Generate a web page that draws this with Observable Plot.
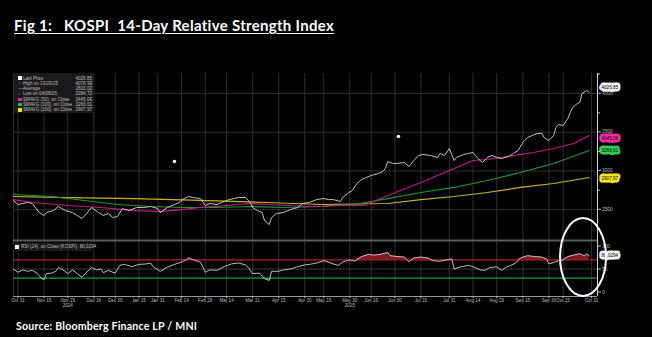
<!DOCTYPE html>
<html>
<head>
<meta charset="utf-8">
<script src="https://cdn.jsdelivr.net/npm/d3@7"></script>
<script src="https://cdn.jsdelivr.net/npm/@observablehq/plot@0.6"></script>
<style>
  html, body { margin: 0; padding: 0; background: #000; }
  #wrap { position: relative; width: 652px; height: 337px; overflow: hidden; background: #000; font-family: "Liberation Sans", Arial, sans-serif; }
  #title { position: absolute; left: 14px; top: 17.5px; color: #fff; font-family: Lato, "Open Sans", sans-serif; font-weight: 700; font-size: 15px; line-height: 15px; letter-spacing: 0.3px; text-decoration: underline; text-decoration-thickness: 1.4px; text-underline-offset: 2px; white-space: pre; }
  #source { position: absolute; left: 16px; top: 320.5px; color: #fff; font-family: Lato, "Open Sans", sans-serif; font-weight: 700; font-size: 10.6px; line-height: 10.6px; letter-spacing: 0.2px; white-space: pre; }
  #price { position: absolute; left: 0; top: 60px; }
  #rsi { position: absolute; left: 0; top: 240px; }
  .legend { position: absolute; background: rgba(28,28,28,0.92); color: #bdbdbd; font-size: 4.6px; }
  .legend .row { position: relative; height: 5.3px; line-height: 5.3px; white-space: pre; }
  .legend .sym { position: absolute; left: 4px; top: 0.9px; width: 3.6px; height: 3.6px; }
  .legend .glyph { position: absolute; left: 4.3px; top: 0; color: #bdbdbd; }
  .legend .lab { position: absolute; left: 9px; top: 0; }
  .legend .val { position: absolute; right: 2px; top: 0; }
</style>
</head>
<body>
<div id="wrap">
  <div id="title"></div>
  <div id="price"></div>
  <div id="legend" class="legend" style="left:14px; top:73px; width:80px; height:40px; padding-top:2.5px; box-sizing:border-box;"></div>
  <div id="rsi"></div>
  <div id="rsiLegend" class="legend" style="left:13px; top:243px; width:79px; height:8px; box-sizing:border-box; padding-top:1.3px;"></div>
  <div id="source"></div>
</div>
<script>
// ---------- text ----------
const titleText = "Fig 1:   KOSPI  14-Day Relative Strength Index";
const sourceText = "Source: Bloomberg Finance LP / MNI";

// ---------- x axis (trading-session index, 0 = Oct 31 2024) ----------
const tickSessions = [0, 11, 21, 32, 41, 51, 59, 69, 79, 88, 99, 110, 121, 129, 140, 149, 159, 170, 182, 192, 202, 213, 224, 230, 242];
const tickLabels = ["Oct 31", "Nov 15", "Nov 29", "Dec 16", "Dec 30", "Jan 15", "Jan 31", "Feb 14", "Feb 28", "Mar 14", "Mar 31", "Apr 15", "Apr 30", "May 15", "May 30", "Jun 16", "Jun 30", "Jul 15", "Jul 31", "Aug 14", "Aug 29", "Sep 15", "Sep 30", "Oct 15", "Oct 31"];
const yearSessions = [21, 140];
const yearLabels = ["2024", "2025"];
const sessionDomain = [-1.9, 244.5];

// ---------- price panel ----------
const priceDomain = [2101, 4258];
const priceTicks = [2500, 3000, 3500, 4000];
const priceMinorTicks = [2250, 2750, 3250, 3750, 4250];

// [session, KOSPI close]
const kospi = [
  [-2,2618],[0,2566],[2,2579],[4,2592],[6,2579],[9,2462],[11,2424],[12,2462],[15,2488],[17,2540],
  [20,2488],[23,2462],[25,2424],[27,2385],[29,2450],[31,2527],[34,2462],[36,2424],[38,2450],[40,2398],
  [42,2411],[44,2514],[47,2488],[50,2527],[53,2527],[56,2540],[59,2514],[60,2462],[63,2527],[65,2553],
  [68,2592],[70,2643],[72,2669],[74,2656],[77,2643],[79,2553],[81,2579],[84,2566],[86,2592],[88,2618],
  [91,2643],[93,2656],[96,2656],[98,2592],[99,2527],[101,2488],[103,2462],[104,2359],[106,2307],[107,2398],
  [109,2450],[112,2462],[115,2501],[118,2527],[120,2579],[123,2592],[126,2630],[129,2643],[131,2630],[133,2630],
  [136,2605],[137,2656],[139,2708],[141,2747],[143,2837],[145,2889],[147,2915],[149,2941],[152,2966],[154,2992],
  [155,3031],[156,3121],[158,3096],[160,3096],[163,3109],[165,3057],[167,3134],[169,3199],[171,3212],[174,3199],
  [177,3173],[178,3225],[180,3199],[182,3289],[184,3134],[185,3173],[188,3212],[190,3225],[192,3238],[193,3199],
  [194,3160],[196,3109],[198,3173],[200,3199],[202,3173],[204,3160],[207,3186],[209,3225],[211,3264],[213,3367],
  [215,3431],[217,3457],[219,3483],[221,3483],[222,3431],[224,3393],[226,3457],[227,3561],[228,3599],[230,3587],
  [232,3677],[233,3755],[234,3819],[236,3871],[237,3884],[238,4000],[240,4039],[241,4013]
];
const sma50 = [
  [-2,2630],[6.5,2592],[21,2553],[35,2527],[49,2488],[60,2475],[69,2501],[77,2527],[88,2553],[98,2579],
  [105,2566],[114,2553],[122,2540],[128,2540],[131,2553],[146,2553],[156,2682],[170,2850],[184,3031],[192,3134],
  [198,3147],[206.5,3186],[217.5,3238],[226,3289],[234.5,3354],[241,3457]
];
const sma100 = [
  [-2,2695],[14,2669],[28,2618],[42,2566],[56,2540],[70,2527],[84,2527],[98,2540],[112,2527],[128,2540],
  [142,2566],[156,2643],[170,2721],[184,2786],[198,2876],[212,2979],[226,3096],[241,3264]
];
const sma200 = [
  [-2,2669],[21,2656],[49,2643],[77,2618],[105,2592],[128,2566],[156,2579],[170,2630],[184,2669],[198,2721],
  [212,2786],[226,2837],[241,2915]
];
const markerDots = [[66, 3121], [160.5, 3444]];

// legend rows
const legendSymbols = ["box", "↑", "—", "↓", "box", "box", "box"];
const legendColors = ["#ffffff", "#bdbdbd", "#bdbdbd", "#bdbdbd", "#ff1fa6", "#22b84a", "#f2e21a"];
const legendLabels = ["Last Price", "High on 10/29/25", "Average", "Low on 04/09/25", "SMAVG (50)  on Close", "SMAVG (100)  on Close", "SMAVG (200)  on Close"];
const legendValues = ["4026,85", "4078,99", "2833,02", "2284,72", "3445,06", "3266,61", "2907,97"];

// right-edge value tags
const tagValues = [4026.85, 3445.06, 3266.61, 2907.97];
const tagLabels = ["4026,85", "3445,06", "3266,61", "2907,97"];
const tagColors = ["#f2f2f2", "#ff2aa8", "#33cc55", "#f5e51f"];
const tagShift = [-4, 2, 0, 0];

// ---------- RSI panel ----------
const rsiDomain = [-9.8, 112];
const rsiTicks = [0, 50, 100];
const rsiGrid = [50];
const overbought = 70, oversold = 30;
const rsi = [
  [-2,50],[0,43],[2,48],[4,45],[6,47],[8,41],[10,29],[11,27],[12,40],[14,41],
  [16,45],[17,53],[19,48],[21,40],[23,48],[25,40],[27,32],[29,43],[31,53],[33,48],
  [35,50],[36,42],[38,47],[41,41],[43,58],[45,60],[48,55],[51,60],[54,61],[56,63],
  [57,55],[60,45],[63,54],[66,60],[69,65],[71,70],[72,74],[74,70],[77,65],[79,43],
  [81,48],[84,47],[87,55],[90,61],[93,63],[96,59],[97,54],[99,40],[102,41],[104,29],
  [105,27],[106,25],[107,45],[110,45],[112,48],[115,50],[118,55],[121,59],[123,60],[126,63],
  [129,68],[131,65],[133,61],[135,58],[137,65],[140,70],[142,67],[145,77],[148,82],[150,80],
  [153,82],[156,86],[157,79],[160,77],[163,76],[165,66],[167,74],[170,76],[173,74],[175,68],
  [178,67],[181,70],[183,72],[184,50],[187,55],[190,58],[192,55],[195,48],[197,47],[199,53],
  [202,55],[204,47],[206,54],[208,58],[210,63],[212,74],[215,79],[218,77],[221,76],[223,72],
  [224,61],[226,64],[228,68],[230,70],[232,77],[235,81],[237,83],[239,79],[240,83],[241,79]
];
const rsiLegendLabel = "RSI (14)  on Close (KOSPI)  80,0294";
const rsiTagValue = 80.0294;
const rsiTagLabel = "80,0294";

// highlight ellipse (centre in session / RSI units, radii likewise)
const highlight = { session: 238.6, rsi: 75, rSessions: 9.7, rRsi: 84.8 };

// ---------- build ----------
document.getElementById("title").textContent = titleText;
document.getElementById("source").textContent = sourceText;

const gridColor = "#2f2f2f";
const baseStyle = { background: "transparent", overflow: "visible", color: "#bdbdbd", fontFamily: "'Liberation Sans', Arial, sans-serif" };
const X = d => d[0], Y = d => d[1];

function tag(value, label, color, fontSize, dy = 0) {
  return Plot.text([value], {
    x: () => sessionDomain[1], y: d => d, text: () => label,
    dx: 4, dy, textAnchor: "start", fontSize, fill: "#000",
    stroke: color, strokeWidth: 5, strokeLinejoin: "round", paintOrder: "stroke"
  });
}

const pricePlot = Plot.plot({
  width: 652, height: 182,
  marginLeft: 13, marginRight: 55, marginTop: 13, marginBottom: 2,
  style: baseStyle,
  x: { domain: sessionDomain, axis: null },
  y: { domain: priceDomain },
  marks: [
    Plot.ruleX([sessionDomain[0], ...tickSessions], { stroke: gridColor, strokeWidth: 1 }),
    Plot.ruleY(priceTicks, { stroke: gridColor, strokeWidth: 1 }),
    Plot.line(sma200, { x: X, y: Y, stroke: "#c9b51c", strokeWidth: 1.2 }),
    Plot.line(sma100, { x: X, y: Y, stroke: "#169a36", strokeWidth: 1.2 }),
    Plot.line(sma50, { x: X, y: Y, stroke: "#c3168a", strokeWidth: 1.2 }),
    Plot.line(kospi, { x: X, y: Y, stroke: "#d6d6d6", strokeWidth: 0.9 }),
    Plot.dot(markerDots, { x: X, y: Y, r: 1.8, fill: "#ffffff" }),
    Plot.ruleX([sessionDomain[1]], { stroke: "#d0d0d0", strokeWidth: 1 }),
    Plot.axisY(priceMinorTicks, { anchor: "right", tickSize: 2, tickFormat: () => "", label: null }),
    Plot.axisY(priceTicks, { anchor: "right", tickSize: 3, tickPadding: 1.5, fontSize: 4.8, label: null, tickFormat: d => String(d), dy: -0.3 }),
    ...tagValues.map((v, i) => tag(v, tagLabels[i], tagColors[i], 4.6, tagShift[i]))
  ]
});
document.getElementById("price").appendChild(pricePlot);

function ellipseMark(index, scales) {
  const cx = scales.x(highlight.session);
  const cy = scales.y(highlight.rsi);
  const rx = scales.x(highlight.session + highlight.rSessions) - cx;
  const ry = cy - scales.y(highlight.rsi + highlight.rRsi);
  const el = document.createElementNS("http://www.w3.org/2000/svg", "ellipse");
  el.setAttribute("cx", cx); el.setAttribute("cy", cy);
  el.setAttribute("rx", rx); el.setAttribute("ry", ry);
  el.setAttribute("fill", "none"); el.setAttribute("stroke", "#ffffff"); el.setAttribute("stroke-width", 2);
  return el;
}

const tickLabelOf = new Map(tickSessions.map((s, i) => [s, tickLabels[i]]));
const yearLabelOf = new Map(yearSessions.map((s, i) => [s, yearLabels[i]]));

const rsiPlot = Plot.plot({
  width: 652, height: 70,
  marginLeft: 13, marginRight: 55, marginTop: 0, marginBottom: 14,
  style: baseStyle,
  x: { domain: sessionDomain },
  y: { domain: rsiDomain },
  marks: [
    Plot.ruleX([sessionDomain[0], ...tickSessions], { stroke: gridColor, strokeWidth: 1 }),
    Plot.ruleY(rsiGrid, { stroke: "#3a3a3a", strokeWidth: 1 }),
    Plot.areaY(rsi, { x: X, y1: overbought, y2: d => Math.max(d[1], overbought), fill: "#7e1b1e" }),
    Plot.areaY(rsi, { x: X, y1: oversold, y2: d => Math.min(d[1], oversold), fill: "#1e7d32" }),
    Plot.ruleY([overbought], { stroke: "#b3232b", strokeWidth: 1.2 }),
    Plot.ruleY([oversold], { stroke: "#1c9a36", strokeWidth: 1.2 }),
    Plot.line(rsi, { x: X, y: Y, stroke: "#d0d0d0", strokeWidth: 0.9 }),
    Plot.ruleY([rsiDomain[1]], { stroke: "#5a5a5a", strokeWidth: 2 }),
    Plot.ruleY([rsiDomain[0]], { stroke: "#9a9a9a", strokeWidth: 1 }),
    Plot.ruleX([sessionDomain[1]], { stroke: "#d0d0d0", strokeWidth: 1 }),
    Plot.axisY(rsiTicks, { anchor: "right", tickSize: 3, tickPadding: 1.5, fontSize: 4.8, label: null, tickFormat: d => String(d) }),
    Plot.axisX(tickSessions, { anchor: "bottom", tickSize: 2, tickPadding: 0.5, fontSize: 4.6, label: null, tickFormat: s => tickLabelOf.get(s) }),
    Plot.axisX(yearSessions, { anchor: "bottom", tickSize: 0, tickPadding: 7.5, fontSize: 4.6, label: null, tickFormat: s => yearLabelOf.get(s) }),
    tag(rsiTagValue, rsiTagLabel, "#f2f2f2", 4.6),
    ellipseMark
  ]
});
document.getElementById("rsi").appendChild(rsiPlot);

// legends (HTML)
const legend = document.getElementById("legend");
legendLabels.forEach((lab, i) => {
  const row = document.createElement("div");
  row.className = "row";
  if (legendSymbols[i] === "box") {
    const s = document.createElement("div"); s.className = "sym"; s.style.background = legendColors[i]; row.appendChild(s);
  } else {
    const g = document.createElement("div"); g.className = "glyph"; g.textContent = legendSymbols[i]; row.appendChild(g);
  }
  const l = document.createElement("div"); l.className = "lab"; l.textContent = lab; row.appendChild(l);
  const v = document.createElement("div"); v.className = "val"; v.textContent = legendValues[i]; row.appendChild(v);
  legend.appendChild(row);
});
const rl = document.getElementById("rsiLegend");
{
  const row = document.createElement("div"); row.className = "row";
  const s = document.createElement("div"); s.className = "sym"; s.style.background = "#ffffff"; s.style.left = "2px"; row.appendChild(s);
  const l = document.createElement("div"); l.className = "lab"; l.style.left = "8px"; l.textContent = rsiLegendLabel; row.appendChild(l);
  rl.appendChild(row);
}
</script>
</body>
</html>
